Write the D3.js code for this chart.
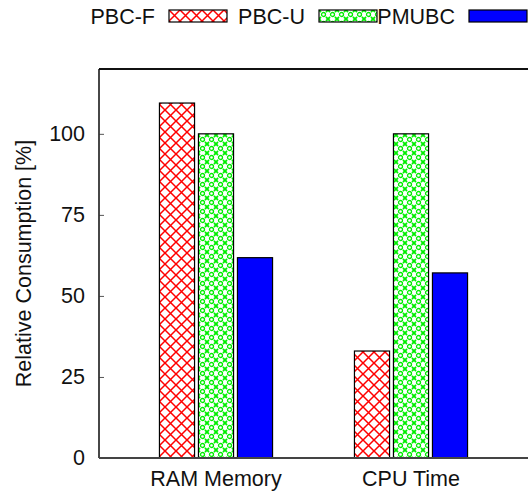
<!DOCTYPE html>
<html>
<head>
<meta charset="utf-8">
<script src="https://cdn.jsdelivr.net/npm/d3@7"></script>
<style>
  body { margin: 0; background: #fff; }
  text { font-family: "Liberation Sans", Arial, sans-serif; fill: #111; }
</style>
</head>
<body>
<script>
// chart values
const categories = ["RAM Memory", "CPU Time"];
const seriesNames = ["PBC-F", "PBC-U", "PMUBC"];
const pbcF = [109.5, 33];
const pbcU = [100, 100];
const pmubc = [61.8, 57.1];
const yTicks = [0, 25, 50, 75, 100];

const width = 528, height = 491;
const margin = { top: 69, right: 0, bottom: 33, left: 99 };

const svg = d3.select("body").append("svg")
  .attr("width", width)
  .attr("height", height);

// fill patterns
const defs = svg.append("defs");

const hatch = defs.append("pattern")
  .attr("id", "pat-f")
  .attr("patternUnits", "userSpaceOnUse")
  .attr("width", 11).attr("height", 11);
hatch.append("rect").attr("width", 11).attr("height", 11).attr("fill", "#fff");
hatch.append("path")
  .attr("d", "M0,0L11,11M11,0L0,11")
  .attr("stroke", "#ff0000").attr("stroke-width", 1.5).attr("fill", "none");

const dots = defs.append("pattern")
  .attr("id", "pat-u")
  .attr("patternUnits", "userSpaceOnUse")
  .attr("width", 9).attr("height", 9);
dots.append("rect").attr("width", 9).attr("height", 9).attr("fill", "#fff");
dots.append("circle").attr("cx", 4.5).attr("cy", 4.5).attr("r", 2)
  .attr("stroke", "#00ee00").attr("stroke-width", 1.3).attr("fill", "none");
dots.append("path")
  .attr("d", "M0,0L2,2M9,0L7,2M0,9L2,7M9,9L7,7")
  .attr("stroke", "#00ee00").attr("stroke-width", 1.8);

const fills = ["url(#pat-f)", "url(#pat-u)", "#0000ff"];

// scales
const x = d3.scaleLinear()
  .domain([-0.6, 1.6])
  .range([margin.left, width - margin.right]);

const y = d3.scaleLinear()
  .domain([0, 120])
  .range([height - margin.bottom, margin.top]);

const barW = 0.18;
const offsets = [-0.2, 0, 0.2];

const data = [];
categories.forEach((c, i) => {
  [pbcF, pbcU, pmubc].forEach((s, j) => {
    data.push({ cat: i, series: j, value: s[i] });
  });
});

// bars
svg.append("g")
  .selectAll("rect")
  .data(data)
  .enter()
  .append("rect")
  .attr("x", d => x(d.cat + offsets[d.series] - barW / 2))
  .attr("width", x(barW) - x(0))
  .attr("y", d => y(d.value))
  .attr("height", d => y(0) - y(d.value))
  .attr("fill", d => fills[d.series])
  .attr("stroke", "#000")
  .attr("stroke-width", 1.2);

// y axis
const yAxis = svg.append("g")
  .attr("transform", `translate(${margin.left},0)`)
  .call(d3.axisLeft(y).tickValues(yTicks).tickSize(-5).tickPadding(14));
yAxis.select(".domain").remove();
yAxis.selectAll(".tick line").attr("stroke", "#555");
yAxis.selectAll(".tick text")
  .style("font-size", "21.5px")
  .attr("fill", "#111");

// frame lines
svg.append("line")
  .attr("x1", margin.left).attr("x2", margin.left)
  .attr("y1", y(120)).attr("y2", y(0))
  .attr("stroke", "#333").attr("stroke-width", 1.8);
svg.append("line")
  .attr("x1", margin.left).attr("x2", width)
  .attr("y1", y(120)).attr("y2", y(120))
  .attr("stroke", "#111").attr("stroke-width", 1.8);
svg.append("line")
  .attr("x1", margin.left).attr("x2", width)
  .attr("y1", y(0)).attr("y2", y(0))
  .attr("stroke", "#444").attr("stroke-width", 1.8);

// x labels
svg.append("g")
  .selectAll("text")
  .data(categories)
  .enter()
  .append("text")
  .attr("x", (d, i) => x(i))
  .attr("y", 486)
  .attr("text-anchor", "middle")
  .style("font-size", "21.5px")
  .text(d => d);

// y title
svg.append("text")
  .attr("transform", `translate(31,${(y(0) + y(120)) / 2}) rotate(-90)`)
  .attr("text-anchor", "middle")
  .style("font-size", "21.5px")
  .text("Relative Consumption [%]");

// legend
const legend = svg.append("g")
  .selectAll("g")
  .data(seriesNames)
  .enter()
  .append("g")
  .attr("transform", (d, i) => `translate(${169 + i * 150},10)`);
legend.append("rect")
  .attr("width", 58).attr("height", 12)
  .attr("fill", (d, i) => fills[i])
  .attr("stroke", "#000").attr("stroke-width", 1.2);
legend.append("text")
  .attr("x", -14)
  .attr("y", 13.5)
  .attr("text-anchor", "end")
  .style("font-size", "21.5px")
  .text(d => d);
</script>
</body>
</html>
